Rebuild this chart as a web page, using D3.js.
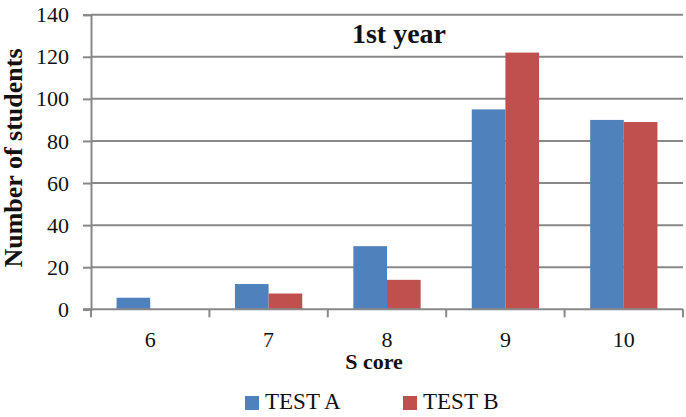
<!DOCTYPE html>
<html>
<head>
<meta charset="utf-8">
<script src="https://cdn.jsdelivr.net/npm/d3@7"></script>
</head>
<body style="margin:0; background:#fff">
<div id="chart"></div>
<script>
const scores = ["6", "7", "8", "9", "10"];
const seriesNames = ["TEST A", "TEST B"];
const testA = [5.5, 12, 30, 95, 90];
const testB = [0, 7.5, 14, 122, 89];
const yTicks = [0, 20, 40, 60, 80, 100, 120, 140];
const colors = ["#4f81bd", "#c0504d"];

const drawChart = () => {
    var w = 686;
    var h = 417;
    var left = 91, right = 683, top = 14.7, bottom = 309.3;
    var serif = '"Liberation Serif"';

    var rows = scores.map((s, i) => ({ score: s, values: [testA[i], testB[i]] }));

    var xScale = d3.scaleBand()
        .domain(scores)
        .range([left, right]);

    var subScale = d3.scaleBand()
        .domain(seriesNames)
        .range([0, xScale.bandwidth()])
        .paddingOuter(0.76);

    var yScale = d3.scaleLinear()
        .domain([0, 140])
        .range([bottom, top]);

    var svg = d3.select("#chart")
        .append("svg")
        .attr("width", w)
        .attr("height", h);

    // y axis
    var yAxis = d3.axisLeft(yScale)
        .tickValues(yTicks)
        .tickSize(8)
        .tickPadding(14);

    var yg = svg.append("g")
        .attr("transform", `translate(${left},0)`)
        .call(yAxis);
    yg.select(".domain").attr("stroke", "#888").attr("stroke-width", 2);
    yg.selectAll(".tick line").attr("stroke", "#888").attr("stroke-width", 2);
    yg.selectAll(".tick text")
        .style("font-family", serif)
        .attr("font-size", 22)
        .attr("fill", "#111");

    // gridlines
    svg.append("g")
        .selectAll("line")
        .data(yTicks.filter(d => d > 0))
        .join("line")
        .attr("x1", left)
        .attr("x2", right)
        .attr("y1", d => yScale(d))
        .attr("y2", d => yScale(d))
        .attr("stroke", "#888")
        .attr("stroke-width", 2);

    // bars
    var groups = svg.append("g")
        .selectAll("g")
        .data(rows)
        .join("g")
        .attr("transform", d => `translate(${xScale(d.score)},0)`);

    groups.selectAll("rect")
        .data(d => d.values.map((v, i) => ({ name: seriesNames[i], value: v, i: i })))
        .join("rect")
        .attr("x", d => subScale(d.name))
        .attr("width", subScale.bandwidth())
        .attr("y", d => yScale(d.value))
        .attr("height", d => yScale(0) - yScale(d.value))
        .attr("fill", d => colors[d.i]);

    // x axis, ticks sit on category boundaries
    var xg = svg.append("g")
        .attr("transform", `translate(0,${bottom})`);
    xg.append("line")
        .attr("x1", left - 8)
        .attr("x2", right)
        .attr("stroke", "#888")
        .attr("stroke-width", 2);
    var bounds = scores.map(s => xScale(s)).concat([right]);
    xg.selectAll(".bt")
        .data(bounds)
        .join("line")
        .attr("class", "bt")
        .attr("x1", d => d)
        .attr("x2", d => d)
        .attr("y1", 0)
        .attr("y2", 8)
        .attr("stroke", "#888")
        .attr("stroke-width", 2);
    xg.selectAll("text")
        .data(scores)
        .join("text")
        .attr("x", d => xScale(d) + xScale.bandwidth() / 2)
        .attr("y", 38)
        .attr("text-anchor", "middle")
        .style("font-family", serif)
        .attr("font-size", 22)
        .attr("fill", "#111")
        .text(d => d);

    // titles
    svg.append("text")
        .attr("x", 399)
        .attr("y", 42.5)
        .attr("text-anchor", "middle")
        .style("font-family", serif)
        .attr("font-size", 28)
        .attr("font-weight", "bold")
        .attr("fill", "#111")
        .text("1st year");

    svg.append("text")
        .attr("x", 374)
        .attr("y", 369)
        .attr("text-anchor", "middle")
        .style("font-family", serif)
        .attr("font-size", 22)
        .attr("font-weight", "bold")
        .attr("fill", "#111")
        .text("S core");

    svg.append("text")
        .attr("transform", "translate(22,158) rotate(-90)")
        .attr("text-anchor", "middle")
        .style("font-family", serif)
        .attr("font-size", 26)
        .attr("font-weight", "bold")
        .attr("fill", "#111")
        .text("Number of students");

    // legend
    var legendX = [245, 403];
    var legend = svg.append("g")
        .selectAll("g")
        .data(seriesNames)
        .join("g")
        .attr("transform", (d, i) => `translate(${legendX[i]},396)`);
    legend.append("rect")
        .attr("width", 14)
        .attr("height", 14)
        .attr("fill", (d, i) => colors[i]);
    legend.append("text")
        .attr("x", 20)
        .attr("y", 13)
        .style("font-family", serif)
        .attr("font-size", 23)
        .attr("fill", "#111")
        .text(d => d);
};

drawChart();
</script>
</body>
</html>
